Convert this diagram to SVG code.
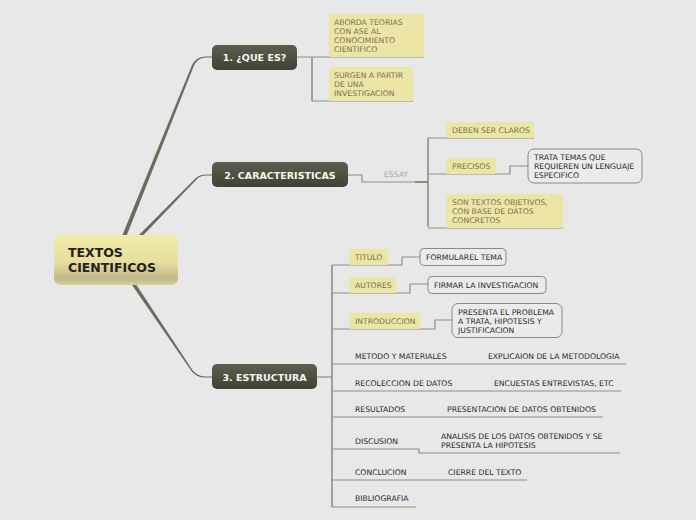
<svg xmlns="http://www.w3.org/2000/svg" width="696" height="520" viewBox="0 0 696 520">
<defs>
<linearGradient id="gc" x1="0" y1="0" x2="0" y2="1">
<stop offset="0" stop-color="#f2eca9"/><stop offset="0.55" stop-color="#e6de9e"/><stop offset="0.88" stop-color="#bfb689"/><stop offset="1" stop-color="#d9d19b"/>
</linearGradient>
<linearGradient id="gt" x1="0" y1="0" x2="0" y2="1">
<stop offset="0" stop-color="#5e5e50"/><stop offset="1" stop-color="#404035"/>
</linearGradient>
<style>
.ln{fill:none;stroke:#8f8f82;stroke-width:1.2}
.vl{fill:none;stroke:#7c7c6c;stroke-width:1.3}
.br{fill:#6c6c5c}
.yb{fill:#ebe6a5}
.yt{font-family:"DejaVu Sans",Verdana,sans-serif;font-size:7.7px;fill:#7a7350}
.tx{font-family:"DejaVu Sans",Verdana,sans-serif;font-size:7.7px;fill:#2a2a2a}
.bx{fill:#ebebeb;stroke:#8a8a80;stroke-width:1}
.tn{fill:url(#gt)}
.tt{font-family:"DejaVu Sans",Verdana,sans-serif;font-size:9.5px;font-weight:bold;fill:#f6f6f0;text-anchor:middle}
.ct{font-family:"DejaVu Sans",Verdana,sans-serif;font-size:12.5px;font-weight:bold;fill:#222}
.es{font-family:"DejaVu Sans",Verdana,sans-serif;font-size:7.7px;fill:#a8a8a0}
</style>
</defs>
<rect width="696" height="520" fill="#e8e8e8"/>
<g id="connectors">
<path class="br" d="M122,236 L191.8,65.5 Q196,56.4 206,56.4 L212,56.4 L212,57.6 L206,57.6 Q197.8,57.6 193.6,66.5 L126.5,236 Z"/>
<path class="br" d="M138,236 L195.3,178.6 Q199.5,174.4 206,174.4 L212,174.4 L212,175.6 L206,175.6 Q200.3,175.6 196.6,179.6 L142.5,236 Z"/>
<path class="br" d="M136.5,285 L192.6,370.3 Q197.5,376.4 205,376.4 L212,376.4 L212,377.6 L205,377.6 Q196.7,377.6 191.6,371.3 L132,285 Z"/>
<path class="ln" d="M297,57 H312 M312,57 H424 M312,101 H413"/>
<path class="vl" d="M312,57 V101"/>
<path class="ln" d="M348,175 H362 V182 H428"/>
<path class="vl" d="M415,182 H428 M428,138 V227"/>
<path class="ln" d="M428,138 H534 M428,174 H510 V166 H528 M428,228 H563"/>
<path class="ln" d="M317,377 H332"/>
<path class="vl" d="M332,265 V507"/>
<path class="ln" d="M332,265 H402 V257 H420 M332,293 H410 V284 H428 M332,329 H435 V320 H452 M332,364 H626 M332,391 H621 M332,417 H603 M332,449 H419 V453 H620 M332,480 H527 M332,507 H416"/>
</g>
<g id="central">
<rect x="54" y="235" width="124" height="50" rx="7" fill="url(#gc)"/>
<text class="ct" x="68" y="257">TEXTOS</text>
<text class="ct" x="68" y="272">CIENTIFICOS</text>
</g>
<g id="topic1">
<rect class="tn" x="212" y="45" width="85" height="25" rx="5"/>
<text class="tt" x="254.5" y="61">1. ¿QUE ES?</text>
</g>
<g id="topic2">
<rect class="tn" x="212" y="162" width="136" height="25" rx="5"/>
<text class="tt" x="280" y="178.5">2. CARACTERISTICAS</text>
</g>
<g id="topic3">
<rect class="tn" x="212" y="364" width="105" height="25" rx="5"/>
<text class="tt" x="264.5" y="380.5">3. ESTRUCTURA</text>
</g>
<g id="aborda">
<rect class="yb" x="329" y="14" width="95" height="43" rx="2"/>
<text class="yt" x="334" y="25">ABORDA TEORIAS</text>
<text class="yt" x="334" y="34">CON ASE AL</text>
<text class="yt" x="334" y="43">CONOCIMIENTO</text>
<text class="yt" x="334" y="52">CIENTIFICO</text>
</g>
<g id="surgen">
<rect class="yb" x="329" y="67" width="84" height="34" rx="2"/>
<text class="yt" x="334" y="78">SURGEN A PARTIR</text>
<text class="yt" x="334" y="87">DE UNA</text>
<text class="yt" x="334" y="96">INVESTIGACION</text>
</g>
<g id="essay"><text class="es" x="384" y="177">ESSAY</text></g>
<g id="claros">
<rect class="yb" x="446" y="122" width="88" height="16" rx="2"/>
<text class="yt" x="452" y="133">DEBEN SER CLAROS</text>
</g>
<g id="precisos">
<rect class="yb" x="446" y="158" width="50" height="16" rx="2"/>
<text class="yt" x="452" y="169">PRECISOS</text>
</g>
<g id="trata">
<rect class="bx" x="528" y="149" width="114" height="34" rx="6"/>
<text class="tx" x="534" y="160">TRATA TEMAS QUE</text>
<text class="tx" x="534" y="169">REQUIEREN UN LENGUAJE</text>
<text class="tx" x="534" y="178">ESPECIFICO</text>
</g>
<g id="objetivos">
<rect class="yb" x="446" y="194" width="117" height="34" rx="2"/>
<text class="yt" x="452" y="205">SON TEXTOS OBJETIVOS,</text>
<text class="yt" x="452" y="214">CON BASE DE DATOS</text>
<text class="yt" x="452" y="223">CONCRETOS</text>
</g>
<g id="titulo">
<rect class="yb" x="349" y="249" width="39" height="16" rx="2"/>
<text class="yt" x="355" y="260">TITULO</text>
</g>
<g id="formular">
<rect class="bx" x="420" y="248.5" width="86" height="17" rx="4"/>
<text class="tx" x="426" y="260">FORMULAREL TEMA</text>
</g>
<g id="autores">
<rect class="yb" x="349" y="277" width="47" height="16" rx="2"/>
<text class="yt" x="355" y="288">AUTORES</text>
</g>
<g id="firmar">
<rect class="bx" x="428" y="276.5" width="118" height="17" rx="4"/>
<text class="tx" x="434" y="288">FIRMAR LA INVESTIGACION</text>
</g>
<g id="intro">
<rect class="yb" x="349" y="313" width="71" height="16" rx="2"/>
<text class="yt" x="355" y="324">INTRODUCCION</text>
</g>
<g id="presenta">
<rect class="bx" x="452" y="303.5" width="110" height="34" rx="6"/>
<text class="tx" x="458" y="315">PRESENTA EL PROBLEMA</text>
<text class="tx" x="458" y="324">A TRATA, HIPOTESIS Y</text>
<text class="tx" x="458" y="333">JUSTIFICACION</text>
</g>
<g id="metodo">
<text class="tx" x="355" y="359">METODO Y MATERIALES</text>
<text class="tx" x="488" y="359">EXPLICAION DE LA METODOLOGIA</text>
</g>
<g id="recoleccion">
<text class="tx" x="355" y="386">RECOLECCION DE DATOS</text>
<text class="tx" x="494" y="386">ENCUESTAS ENTREVISTAS, ETC</text>
</g>
<g id="resultados">
<text class="tx" x="355" y="412">RESULTADOS</text>
<text class="tx" x="447" y="412">PRESENTACION DE DATOS OBTENIDOS</text>
</g>
<g id="discusion">
<text class="tx" x="355" y="444">DISCUSION</text>
<text class="tx" x="441" y="439">ANALISIS DE LOS DATOS OBTENIDOS Y SE</text>
<text class="tx" x="441" y="448">PRESENTA LA HIPOTESIS</text>
</g>
<g id="conclucion">
<text class="tx" x="355" y="475">CONCLUCION</text>
<text class="tx" x="448" y="475">CIERRE DEL TEXTO</text>
</g>
<g id="bibliografia">
<text class="tx" x="355" y="501">BIBLIOGRAFIA</text>
</g>
</svg>
